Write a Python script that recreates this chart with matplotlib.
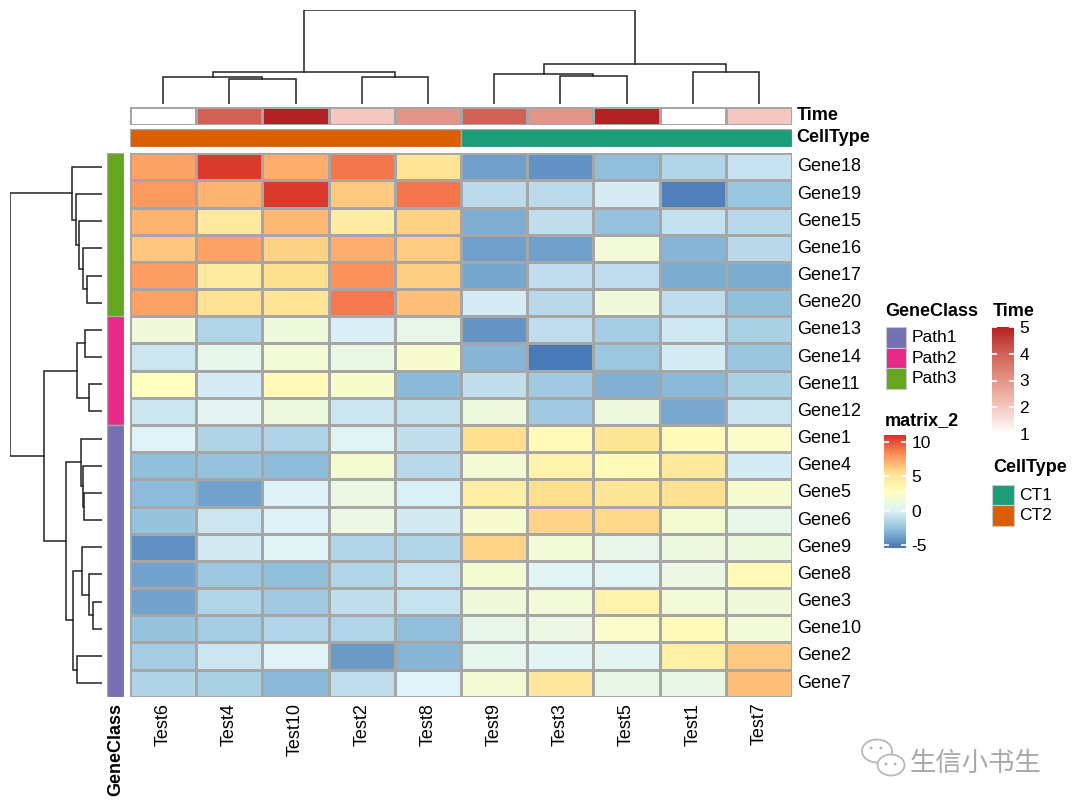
import matplotlib
matplotlib.use("Agg")
import numpy as np
import matplotlib.pyplot as plt
from matplotlib.colors import LinearSegmentedColormap, Normalize
from matplotlib.patches import Rectangle, Ellipse
from matplotlib.cm import ScalarMappable

plt.rcParams["font.family"] = ["Liberation Sans", "Noto Sans CJK SC", "DejaVu Sans"]

# ── data ─────────────────────────────────────────────────────────────────────
samples = ["Test6", "Test4", "Test10", "Test2", "Test8",
           "Test9", "Test3", "Test5", "Test1", "Test7"]
genes = ["Gene18", "Gene19", "Gene15", "Gene16", "Gene17", "Gene20",
         "Gene13", "Gene14", "Gene11", "Gene12",
         "Gene1", "Gene4", "Gene5", "Gene6", "Gene9", "Gene8",
         "Gene3", "Gene10", "Gene2", "Gene7"]
expr = [
    [7.5, 10.7, 7.2, 8.9, 5.2, -3.8, -4.3, -2.7, -1.5, -0.8],
    [7.8, 7.0, 10.7, 6.3, 8.9, -1.2, -1.2, -0.3, -5.0, -2.3],
    [7.0, 4.7, 6.8, 4.5, 6.0, -3.3, -1.0, -2.5, -0.9, -1.3],
    [6.4, 7.5, 6.0, 7.2, 6.2, -3.8, -3.8, 1.6, -3.0, -1.3],
    [7.7, 4.6, 5.5, 8.1, 6.1, -3.6, -1.1, -1.1, -3.4, -3.4],
    [7.6, 5.3, 5.1, 8.8, 6.6, -0.3, -1.3, 1.5, -1.1, -2.6],
    [1.5, -1.5, 1.4, -0.2, 0.8, -4.2, -1.1, -2.0, -0.5, -1.8],
    [-0.6, 0.7, 1.7, 1.0, 2.0, -3.0, -5.2, -2.2, -0.3, -2.3],
    [2.7, -0.3, 3.3, 2.1, -2.9, -1.0, -2.1, -3.2, -2.9, -1.8],
    [-0.6, 0.4, 1.3, -0.6, -0.9, 1.3, -2.1, 1.3, -3.5, -0.7],
    [0.1, -1.6, -1.6, 0.2, -1.0, 5.5, 3.2, 5.0, 3.0, 2.3],
    [-2.6, -2.5, -2.8, 1.9, -1.3, 1.8, 3.9, 3.1, 4.7, -0.3],
    [-2.8, -3.7, 0.0, 1.1, -0.1, 4.2, 5.6, 5.0, 5.4, 2.0],
    [-2.4, -0.6, 0.0, 1.1, -0.4, 2.0, 5.9, 5.8, 1.9, 0.8],
    [-4.4, -0.4, 0.2, -1.5, -1.5, 5.9, 1.7, 0.8, 1.3, 1.3],
    [-3.7, -2.2, -2.7, -1.5, -0.8, 1.9, 0.3, 0.3, 1.1, 3.3],
    [-3.7, -1.5, -2.1, -1.0, -0.8, 1.5, 1.6, 3.9, 1.6, 1.5],
    [-2.4, -1.9, -1.5, -1.5, -2.7, 0.8, 1.1, 2.3, 3.0, 1.6],
    [-2.0, -0.6, 0.1, -4.0, -3.0, 0.6, 0.3, 0.4, 4.1, 6.3],
    [-1.6, -1.8, -2.9, -1.1, 0.1, 1.8, 4.9, 0.9, 0.9, 6.6],
]
time_vals = [1, 4, 5, 2, 3, 4, 3, 5, 1, 2]
cell_type = ["CT2"] * 5 + ["CT1"] * 5
gene_class = ["Path3"] * 6 + ["Path2"] * 4 + ["Path1"] * 10

# dendrograms: (left child, right child, height); leaves are display positions
col_merges = [(1, 2, 25.3), (0, 10, 27.3), (3, 4, 27.3), (11, 12, 32.3),
              (6, 7, 28.0), (5, 14, 30.0), (8, 9, 32.3), (15, 16, 39.7),
              (13, 17, 94.0)]
row_merges = [(4, 5, 14.3), (3, 20, 18.3), (2, 21, 22.3), (1, 22, 25.7),
              (0, 23, 30.0), (6, 7, 16.7), (8, 9, 12.3), (25, 26, 25.0),
              (12, 13, 17.3), (11, 28, 19.0), (10, 29, 20.7), (16, 17, 8.3),
              (15, 31, 12.3), (14, 32, 20.0), (18, 19, 25.0), (33, 34, 29.0),
              (30, 35, 36.0), (27, 36, 57.3), (24, 37, 91.7)]

# ── styling ──────────────────────────────────────────────────────────────────
W, H = 1080, 810
grid_col = "#A6A6A6"
heat_cmap = LinearSegmentedColormap.from_list(
    "rdylbu", ["#4575B4", "#91BFDB", "#E0F3F8", "#FFFFBF",
               "#FEE090", "#FC8D59", "#D73027"])
heat_norm = Normalize(-5.4, 11.0)
time_cmap = LinearSegmentedColormap.from_list(
    "time", ["#FFFFFF", "#F4C7C0", "#E39587", "#D06256", "#B22222"])
time_norm = Normalize(1, 5)
ct_colors = {"CT1": "#1B9E77", "CT2": "#D95F02"}
gc_colors = {"Path1": "#7570B3", "Path2": "#E7298A", "Path3": "#66A61E"}

fig = plt.figure(figsize=(W / 100, H / 100), dpi=100)


def ax_px(x0, y0, x1, y1):
    return fig.add_axes([x0 / W, 1 - y1 / H, (x1 - x0) / W, (y1 - y0) / H])


def runs(labels):
    out, start = [], 0
    for i in range(1, len(labels) + 1):
        if i == len(labels) or labels[i] != labels[start]:
            out.append((start, i, labels[start]))
            start = i
    return out


def dendro_segments(merges, n):
    pos = {i: i + 0.5 for i in range(n)}
    hgt = {i: 0.0 for i in range(n)}
    segs = []
    for k, (a, b, h) in enumerate(merges):
        segs.append(([pos[a], pos[a], pos[b], pos[b]], [hgt[a], h, h, hgt[b]]))
        pos[n + k] = (pos[a] + pos[b]) / 2
        hgt[n + k] = h
    return segs


HX0, HX1, HY0, HY1 = 130, 792, 153.3, 696.7
nr, nc = len(genes), len(samples)

# heatmap body
ax = ax_px(HX0, HY0, HX1, HY1)
ax.pcolormesh(np.array(expr), cmap=heat_cmap, norm=heat_norm,
              edgecolors=grid_col, linewidth=1)
ax.set_xlim(0, nc)
ax.set_ylim(nr, 0)
ax.axis("off")
for i, g in enumerate(genes):
    ax.text(nc + 0.07, i + 0.5, g, ha="left", va="center", fontsize=13)
for j, s in enumerate(samples):
    ax.text(j + 0.5, nr + 0.22, s, ha="center", va="top", rotation=90, fontsize=13)

# Time annotation
ax_t = ax_px(HX0, 106.5, HX1, 124.5)
ax_t.pcolormesh(np.array([time_vals]), cmap=time_cmap, norm=time_norm,
                edgecolors=grid_col, linewidth=1)
ax_t.set_xlim(0, nc)
ax_t.set_ylim(1, 0)
ax_t.axis("off")
ax_t.text(nc + 0.07, 0.5, "Time", ha="left", va="center", fontsize=13, fontweight="bold")

# CellType annotation
ax_c = ax_px(HX0, 128.5, HX1, 146.5)
for s0, s1, lab in runs(cell_type):
    ax_c.add_patch(Rectangle((s0, 0), s1 - s0, 1, facecolor=ct_colors[lab],
                             edgecolor=grid_col, linewidth=1))
ax_c.set_xlim(0, nc)
ax_c.set_ylim(1, 0)
ax_c.axis("off")
ax_c.text(nc + 0.07, 0.5, "CellType", ha="left", va="center", fontsize=13, fontweight="bold")

# GeneClass annotation
ax_g = ax_px(106.5, HY0, 124.5, HY1)
for s0, s1, lab in runs(gene_class):
    ax_g.add_patch(Rectangle((0, s0), 1, s1 - s0, facecolor=gc_colors[lab],
                             edgecolor=grid_col, linewidth=1))
ax_g.set_xlim(0, 1)
ax_g.set_ylim(nr, 0)
ax_g.axis("off")
ax_g.text(0.5, nr + 0.22, "GeneClass", ha="center", va="top", rotation=90,
          fontsize=13, fontweight="bold")

# column dendrogram
ax_cd = ax_px(HX0, 10, HX1, 104)
for xs, ys in dendro_segments(col_merges, nc):
    ax_cd.plot(xs, ys, color="#222222", lw=1.1, solid_joinstyle="miter")
ax_cd.set_xlim(0, nc)
ax_cd.set_ylim(0, col_merges[-1][2])
ax_cd.axis("off")

# row dendrogram
ax_rd = ax_px(10, HY0, 101.7, HY1)
for xs, ys in dendro_segments(row_merges, nr):
    ax_rd.plot(ys, xs, color="#222222", lw=1.1, solid_joinstyle="miter")
ax_rd.set_xlim(row_merges[-1][2], 0)
ax_rd.set_ylim(nr, 0)
ax_rd.axis("off")

# ── legends ──────────────────────────────────────────────────────────────────
ov = fig.add_axes([0, 0, 1, 1], zorder=5)
ov.set_xlim(0, W)
ov.set_ylim(H, 0)
ov.axis("off")
ov.patch.set_alpha(0)

ov.text(885, 311, "GeneClass", ha="left", va="center", fontsize=13, fontweight="bold")
for k, lab in enumerate(["Path1", "Path2", "Path3"]):
    y = 327 + k * 20.7
    ov.add_patch(Rectangle((886, y), 19.5, 20.7, facecolor=gc_colors[lab],
                           edgecolor="#C8C8C8", linewidth=0.8))
    ov.text(912, y + 10.5, lab, ha="left", va="center", fontsize=12.5)

ov.text(993, 311, "Time", ha="left", va="center", fontsize=13, fontweight="bold")
ov.text(885, 421, "matrix_2", ha="left", va="center", fontsize=13, fontweight="bold")
ov.text(993, 468, "CellType", ha="left", va="center", fontsize=13, fontweight="bold")
for k, lab in enumerate(["CT1", "CT2"]):
    y = 484.5 + k * 20.5
    ov.add_patch(Rectangle((992, y), 21.5, 20.5, facecolor=ct_colors[lab],
                           edgecolor="#C8C8C8", linewidth=0.8))
    ov.text(1019, y + 10.5, lab, ha="left", va="center", fontsize=12.5)


def color_legend(x0, y0, x1, y1, cmap, norm, ticks):
    cax = ax_px(x0, y0, x1, y1)
    cb = fig.colorbar(ScalarMappable(norm=norm, cmap=cmap), cax=cax)
    cb.outline.set_visible(False)
    cb.set_ticks(ticks)
    cb.set_ticklabels([str(t) for t in ticks])
    cax.tick_params(length=0, labelsize=12.5, pad=4)
    cax.hlines(ticks, 0, 0.22, color="white", lw=1.2, transform=cax.get_yaxis_transform())
    cax.hlines(ticks, 0.78, 1, color="white", lw=1.2, transform=cax.get_yaxis_transform())


color_legend(992, 327, 1014, 434, time_cmap, time_norm, [1, 2, 3, 4, 5])
color_legend(884, 435, 906, 548, heat_cmap, heat_norm, [-5, 0, 5, 10])

# watermark
for (cx, cy, w, h) in [(877, 751, 30, 23), (891, 765, 27, 21)]:
    ov.add_patch(Ellipse((cx, cy), w, h, facecolor="white", edgecolor="#B8B8B8", lw=1.3))
for (dx, dy) in [(871, 748), (881, 748), (886, 764), (895, 764)]:
    ov.add_patch(Ellipse((dx, dy), 3, 3, facecolor="#B8B8B8", edgecolor="none"))
ov.text(910, 763, "生信小书生", ha="left", va="center", fontsize=19,
        color="#A8A8A8", family=["Noto Sans CJK SC", "DejaVu Sans"])

fig.savefig("out.png", dpi=100)
